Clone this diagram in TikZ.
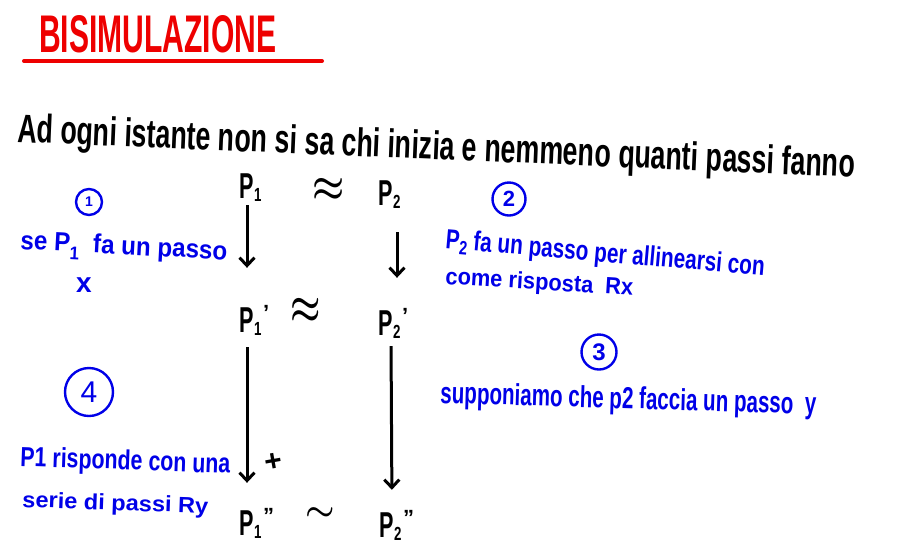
\documentclass[tikz,border=0pt]{standalone}
\usepackage{amsmath}
\usepackage{fontspec}
\setmainfont{Liberation Sans}
\usetikzlibrary{arrows.meta}
\definecolor{inkblue}{RGB}{0,0,232}
\definecolor{inkred}{RGB}{238,0,0}
\newcommand\fit[3]{\resizebox{#1pt}{#2pt}{\bfseries #3}}
\newcommand\fsz[1]{\fontsize{#1}{#1}\selectfont}
\newcommand\Pidx[2]{\scalebox{0.6}[1]{P}\rlap{\raisebox{-3pt}{\fsz{19}\scalebox{0.7}[1]{#1}}}\rlap{\raisebox{12pt}{\fsz{20}\hspace{9pt}#2}}}
\begin{document}
\begin{tikzpicture}[x=1pt,y=-1pt,
  txt/.style={anchor=base west, inner sep=0pt},
  btxt/.style={txt, text=inkblue},
  pnode/.style={anchor=base, inner sep=0pt, text height=26pt, text depth=4pt, font=\fsz{36}\bfseries},
  rel/.style={inner sep=0pt},
  circ/.style={draw=inkblue, circle, line width=2.4pt, inner sep=0pt, text=inkblue},
  arr/.style={line width=3pt, -{Straight Barb[length=8pt,width=15pt]}}
]
\useasboundingbox[fill=white] (0,0) rectangle (900,550);

% title
\node[txt, text=inkred] (title) at (39,52) {\fit{237}{37}{BISIMULAZIONE}};
\draw[inkred, line width=4pt, line cap=round] (24,61) -- (322,61);

% intro sentence
\node[txt, rotate=-2.4] (intro) at (17,142) {\fit{838}{29}{Ad ogni istante non si sa chi inizia e nemmeno quanti passi fanno}};

% processes
\node[pnode] (p1)  at (247,198) {\Pidx{1}{}};
\node[pnode] (p2)  at (386,205) {\Pidx{2}{}};
\node[pnode] (p1a) at (247,332) {\Pidx{1}{\fsz{22}'}};
\node[pnode] (p2a) at (386,335) {\Pidx{2}{\fsz{22}'}};
\node[pnode] (p1b) at (247,535) {\Pidx{1}{\fsz{22}"}};
\node[pnode] (p2b) at (387,537) {\Pidx{2}{\fsz{22}"}};

\node[rel] (eq1) at (329,190) {\scalebox{3.6}[4.2]{$\boldsymbol{\approx}$}};
\node[rel] (eq2) at (306,311) {\scalebox{3.4}[4.6]{$\boldsymbol{\approx}$}};
\node[rel] (sim) at (320,514) {\scalebox{3.3}[3.3]{$\boldsymbol{\sim}$}};

% arrows
\draw[arr, shorten <=3pt, shorten >=38pt] (p1) -- (p1a);
\draw[arr, shorten <=23pt, shorten >=31pt] ([xshift=11pt]p2.south) -- ([xshift=11pt]p2a.north);
\draw[arr, shorten <=11pt, shorten >=26pt] (p1a) -- (p1b);
\draw[arr, shorten <=7pt, shorten >=21pt] ([xshift=5pt]p2a.south) -- ([xshift=5pt]p2b.north);
\node[rel, font=\fsz{30}\bfseries, rotate=10] (plus) at (274,462) {+};

% step 1
\node[circ, minimum width=26pt, minimum height=22pt, font=\fsz{14}\bfseries] (c1) at (89,202) {1};
\node[btxt, rotate=-3] (t1) at (20,249) {\fit{207}{19}{se P\raisebox{-3pt}{\fsz{7}1} \ fa un passo}};
\node[rel, text=inkblue, font=\fsz{28}\bfseries] (x1) at (84,285) {x};

% step 2
\node[circ, minimum size=33pt, font=\fsz{22}\bfseries] (c2) at (509,199) {2};
\node[btxt, rotate=-5] (t2a) at (445,248) {\fit{320}{20}{P\raisebox{-2pt}{\fsz{7}2} fa un passo per allinearsi con}};
\node[btxt, rotate=-3.5] (t2b) at (445,284) {\fit{188}{17}{come risposta \ Rx}};

% step 3
\node[circ, minimum width=31pt, minimum height=35pt, font=\fsz{24}\bfseries] (c3) at (599,352) {3};
\node[btxt, rotate=-1.7] (t3) at (440,403) {\fit{376}{22}{supponiamo che p2 faccia un passo \ y}};

% step 4
\node[circ, minimum width=44pt, minimum height=48pt, font=\fsz{30}] (c4) at (89,392) {4};
\node[btxt, rotate=-2] (t4a) at (20,466) {\fit{210}{20}{P1 risponde con una}};
\node[btxt, rotate=-2] (t4b) at (22,507) {\fit{186}{16}{serie di passi Ry}};
\end{tikzpicture}
\end{document}
